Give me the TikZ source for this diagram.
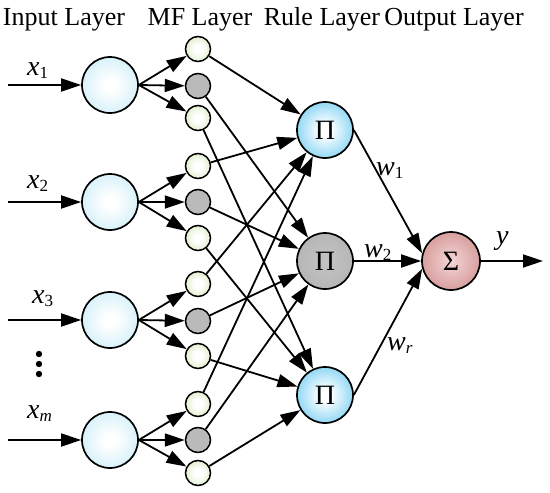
\documentclass[tikz,border=0pt]{standalone}
\usepackage{fontspec}
\setmainfont{Liberation Serif}
\usetikzlibrary{arrows.meta}
\definecolor{incol}{RGB}{172,226,242}
\definecolor{mfgreen}{RGB}{192,220,148}
\definecolor{mfgray}{RGB}{186,186,186}
\definecolor{ruleblue}{RGB}{45,180,236}
\definecolor{rulegrayin}{RGB}{196,196,196}
\definecolor{rulegray}{RGB}{168,168,168}
\definecolor{sumin}{RGB}{244,214,214}
\definecolor{sumred}{RGB}{192,112,112}
\pgfdeclareradialshading{inshade}{\pgfpoint{0bp}{0bp}}{color(0bp)=(white); color(5bp)=(white); color(48bp)=(incol); color(50bp)=(incol)}
\pgfdeclareradialshading{mfshade}{\pgfpoint{0bp}{0bp}}{color(0bp)=(white); color(8bp)=(white); color(46bp)=(mfgreen); color(50bp)=(mfgreen)}
\pgfdeclareradialshading{blueshade}{\pgfpoint{0bp}{0bp}}{color(0bp)=(white); color(5bp)=(white); color(44bp)=(ruleblue); color(50bp)=(ruleblue)}
\pgfdeclareradialshading{grayshade}{\pgfpoint{0bp}{0bp}}{color(0bp)=(rulegrayin); color(50bp)=(rulegray)}
\pgfdeclareradialshading{sumshade}{\pgfpoint{0bp}{0bp}}{color(0bp)=(sumin); color(46bp)=(sumred); color(50bp)=(sumred)}
\newcommand{\lbl}[2]{{\fontsize{28}{30}\selectfont\itshape #1}\raisebox{-3pt}{\fontsize{17}{18}\selectfont #2}}
\begin{document}
\begin{tikzpicture}[x=1pt,y=-1pt,
  inp/.style={circle, draw, line width=1.7pt, minimum size=56pt, inner sep=0pt, shading=inshade},
  mfg/.style={circle, draw, line width=1.5pt, minimum size=25pt, inner sep=0pt, shading=mfshade},
  mfgr/.style={circle, draw, line width=1.5pt, minimum size=25pt, inner sep=0pt, fill=mfgray},
  ruleb/.style={circle, draw, line width=1.7pt, minimum size=56pt, inner sep=0pt, shading=blueshade, font=\fontsize{28}{30}\selectfont},
  ruleg/.style={circle, draw, line width=1.7pt, minimum size=56pt, inner sep=0pt, shading=grayshade, font=\fontsize{28}{30}\selectfont},
  sumn/.style={circle, draw, line width=1.7pt, minimum size=58pt, inner sep=0pt, shading=sumshade, font=\fontsize{28}{30}\selectfont},
  arr/.style={-{Triangle[length=20pt,width=13pt]}, line width=1.8pt},
  title/.style={anchor=base, font=\fontsize{26}{30}\selectfont, inner sep=0pt},
  lab/.style={anchor=base west, inner sep=0pt}
]
\useasboundingbox (0,0) rectangle (550,493);
\fill[white] (0,0) rectangle (550,493);

% titles
\node[title] (t1) at (64,25) {Input Layer};
\node[title] (t2) at (200,25) {MF Layer};
\node[title] (t3) at (322,25) {Rule Layer};
\node[title] (t4) at (454,25) {Output Layer};

% input nodes
\node[inp] (in1) at (110,85) {};
\node[inp] (in2) at (110,202) {};
\node[inp] (in3) at (110,320) {};
\node[inp] (in4) at (110,440) {};

% free ends of input arrows
\coordinate (s1) at (8,85);
\coordinate (s2) at (8,202);
\coordinate (s3) at (8,320);
\coordinate (s4) at (8,440);

% MF nodes
\node[mfg]  (m1)  at (198,49) {};
\node[mfgr] (m2)  at (198,86) {};
\node[mfg]  (m3)  at (198,118) {};
\node[mfg]  (m4)  at (198,166) {};
\node[mfgr] (m5)  at (198,202) {};
\node[mfg]  (m6)  at (198,238) {};
\node[mfg]  (m7)  at (198,284) {};
\node[mfgr] (m8)  at (198,321) {};
\node[mfg]  (m9)  at (198,356) {};
\node[mfg]  (m10) at (198,404) {};
\node[mfgr] (m11) at (198,440) {};
\node[mfg]  (m12) at (198,473) {};

% rule nodes
\node[ruleb] (r1) at (325,130) {Π};
\node[ruleg] (r2) at (325,261) {Π};
\node[ruleb] (r3) at (325,395) {Π};

% output
\node[sumn] (S) at (451,261) {Σ};
\coordinate (yout) at (543,261);

% labels
\node[lab] (lx1) at (27,75) {\lbl{x}{1}};
\node[lab] (lx2) at (27,188) {\lbl{x}{2}};
\node[lab] (lx3) at (32,303) {\lbl{x}{3}};
\node[lab] (lxm) at (27,418) {\lbl{x}{\itshape m}};
\node[lab] (lw1) at (376,175) {\lbl{w}{1}};
\node[lab] (lw2) at (364,257) {\lbl{w}{2}};
\node[lab] (lwr) at (387,350) {\lbl{w}{\itshape r}};
\node[lab] (ly)  at (496,244) {\lbl{y}{}};

% vertical dots
\fill (39,354) circle (3.2pt) (39,364) circle (3.2pt) (39,374) circle (3.2pt);

% input arrows
\foreach \i in {1,2,3,4} {\draw[arr] (s\i) -- (in\i);}

% input -> MF
\draw[arr] (in1.east) -- (m1);
\draw[arr] (in1.east) -- (m2);
\draw[arr] (in1.east) -- (m3);
\draw[arr] (in2.east) -- (m4);
\draw[arr] (in2.east) -- (m5);
\draw[arr] (in2.east) -- (m6);
\draw[arr] (in3.east) -- (m7);
\draw[arr] (in3.east) -- (m8);
\draw[arr] (in3.east) -- (m9);
\draw[arr] (in4.east) -- (m10);
\draw[arr] (in4.east) -- (m11);
\draw[arr] (in4.east) -- (m12);

% MF -> rule
\foreach \a in {1,4,7,10} {\draw[arr] (m\a) -- (r1);}
\foreach \a in {2,5,8,11} {\draw[arr] (m\a) -- (r2);}
\foreach \a in {3,6,9,12} {\draw[arr] (m\a) -- (r3);}

% rule -> sum
\draw[arr] (r1.east) -- (S.165);
\draw[arr] (r2) -- (S);
\draw[arr] (r3.east) -- (S.195);

% output arrow
\draw[arr] (S) -- (yout);
\end{tikzpicture}
\end{document}
